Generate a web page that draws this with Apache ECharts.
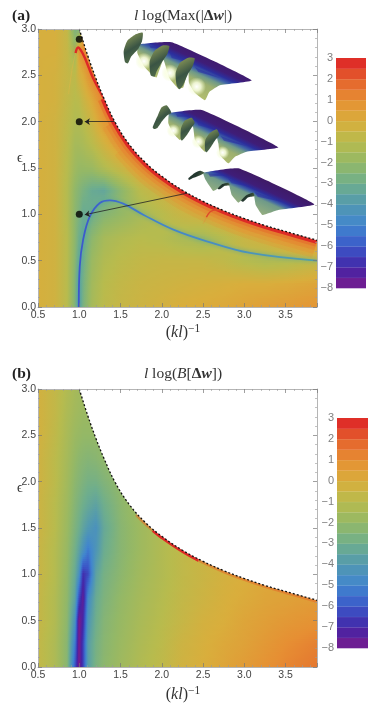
<!DOCTYPE html>
<html>
<head>
<meta charset="utf-8">
<style>
  html, body { margin: 0; padding: 0; background: #fff; }
  #chart { width: 374px; height: 705px; }
</style>
<script src="https://cdn.jsdelivr.net/npm/echarts@6/dist/echarts.min.js"></script>
</head>
<body>
<div id="chart"></div>
<script>
// colour scale
const scaleValues = [-8, -7, -6, -5, -4, -3, -2, -1, 0, 1, 2, 3]
const scaleColors = ['#7b1a8c', '#4325a6', '#3b57c8', '#4085cf', '#5299b0', '#6fae8c', '#94b866', '#b8bb4d', '#d9ae3c', '#e68f33', '#e4602c', '#dd1f26']
const bandEdges = [-8, -7.5, -7, -6.5, -6, -5.5, -5, -4.5, -4, -3.5, -3, -2.5, -2, -1.5, -1, -0.5, 0, 0.5, 1, 1.5, 2, 2.5, 3]

// rows of both fields, top of the plot first
const rowsE = [3, 2.75, 2.5, 2.25, 2, 1.75, 1.5, 1.25, 1, 0.75, 0.5, 0.25, 0]

// panel (a)
const colsA = [0.5, 0.7, 0.85, 0.95, 1, 1.05, 1.15, 1.3, 1.5, 1.75, 2, 2.25, 2.5, 2.75, 3, 3.25, 3.5, 3.88]
const fieldA = [
  [-0.1, -0.1, -0.6, -2.6, -2.6, 0.4, 1, 1, 1, 1, 1, 1, 1, 1, 1, 1, 1, 1],
  [-0.1, -0.1, -0.6, -1.6, 0.5, 0.9, 1.4, 1.5, 1.5, 1.5, 1.5, 1.5, 1.5, 1.5, 1.5, 1.5, 1.5, 1.5],
  [-0.1, -0.2, -0.6, -0.9, -0.2, 0.1, 1.1, 1.5, 1.5, 1.5, 1.5, 1.5, 1.5, 1.5, 1.5, 1.5, 1.5, 1.5],
  [-0.1, -0.2, -0.7, -1, -0.9, -0.5, 0.2, 1.4, 1.5, 1.5, 1.5, 1.5, 1.5, 1.5, 1.5, 1.5, 1.5, 1.5],
  [-0.1, -0.3, -0.8, -1.2, -1.2, -1, -0.4, 0.7, 1.5, 1.5, 1.5, 1.5, 1.5, 1.5, 1.5, 1.5, 1.5, 1.5],
  [-0.1, -0.3, -0.9, -1.5, -1.5, -1.4, -1, -0.3, 0.7, 1.5, 1.5, 1.5, 1.5, 1.5, 1.5, 1.5, 1.5, 1.5],
  [-0.1, -0.3, -1, -1.7, -1.9, -1.9, -1.8, -1.2, -0.5, 0.4, 1.2, 1.5, 1.5, 1.5, 1.5, 1.5, 1.5, 1.5],
  [-0.1, -0.3, -1.1, -2.1, -2.4, -2.7, -3.2, -3.4, -2.2, -0.9, -0.4, 0.3, 1, 1.5, 1.5, 1.5, 1.5, 1.5],
  [-0.1, -0.3, -1.1, -2.2, -2.6, -3.2, -3, -2.4, -2, -1.5, -1, -0.5, -0.1, 0.6, 1.4, 1.5, 1.5, 1.5],
  [-0.1, -0.3, -1, -2.2, -3, -3.2, -2.2, -1.5, -1.2, -1, -1.1, -1.4, -1.6, -1.1, -0.5, -0.1, 0.5, 1.4],
  [-0.1, -0.3, -1, -2.3, -3.2, -3, -1.8, -1.2, -0.9, -0.7, -0.6, -0.6, -0.6, -0.8, -1.1, -1.3, -1.2, -0.8],
  [-0.1, -0.3, -1, -2.4, -3.6, -2.8, -1.6, -1, -0.7, -0.5, -0.4, -0.3, -0.2, -0.1, 0, 0, 0.1, 0.3],
  [-0.1, -0.3, -1, -2.5, -3.8, -2.7, -1.5, -0.9, -0.6, -0.4, -0.2, 0, 0.1, 0.2, 0.35, 0.5, 0.6, 0.8]
]

// panel (b)
const colsB = [0.5, 0.7, 0.85, 0.95, 1, 1.05, 1.1, 1.2, 1.3, 1.5, 1.75, 2, 2.25, 2.5, 2.75, 3, 3.25, 3.5, 3.88]
const fieldB = [
  [-0.2, -0.7, -1.2, -1.5, -1.6, -1.7, -1.7, -1.7, -1.5, -1, -0.5, -0.2, 0, 0, 0, 0, 0, 0, 0],
  [-0.2, -0.7, -1.3, -1.6, -1.7, -1.8, -1.8, -1.8, -1.7, -1.4, -1, -0.5, 0, 0, 0, 0, 0, 0, 0],
  [-0.2, -0.8, -1.4, -1.8, -1.9, -2, -2, -2, -1.9, -1.6, -1.2, -0.7, 0, 0, 0, 0, 0, 0, 0],
  [-0.3, -0.9, -1.5, -2, -2.2, -2.3, -2.4, -2.3, -2.1, -1.8, -1.4, -0.9, -0.3, 0, 0, 0, 0, 0, 0],
  [-0.3, -0.9, -1.6, -2.2, -2.4, -2.6, -2.8, -2.8, -2.5, -2, -1.5, -1, -0.4, 0, 0, 0, 0, 0, 0],
  [-0.4, -1, -1.7, -2.4, -2.7, -3, -3.3, -3.6, -3, -2.2, -1.6, -1.1, -0.6, -0.2, 0, 0, 0, 0, 0],
  [-0.4, -1, -1.8, -2.6, -3, -3.5, -4, -4.4, -3.3, -2.3, -1.7, -1.2, -0.7, -0.2, 0, 0, 0, 0, 0],
  [-0.5, -1.1, -1.9, -2.9, -3.6, -4.4, -5.3, -4.2, -3.1, -2.3, -1.7, -1.2, -0.8, -0.4, 0, 0.2, 0.3, 0.3, 0.3],
  [-0.5, -1.1, -2, -3.2, -4.4, -6.8, -6.3, -3.6, -2.8, -2.2, -1.6, -1.2, -0.8, -0.5, -0.2, 0, 0.2, 0.3, 0.4],
  [-0.6, -1.2, -2.1, -3.6, -6.2, -7.6, -4.8, -3.2, -2.6, -2, -1.5, -1.1, -0.7, -0.4, -0.1, 0.1, 0.3, 0.4, 0.6],
  [-0.6, -1.2, -2.2, -4.4, -8, -7, -4.2, -3, -2.4, -1.9, -1.4, -1, -0.6, -0.2, 0, 0.3, 0.5, 0.7, 0.9],
  [-0.7, -1.3, -2.3, -5.2, -8, -6.5, -3.8, -2.8, -2.3, -1.8, -1.3, -0.9, -0.4, -0.1, 0.2, 0.4, 0.7, 1, 1.3],
  [-0.7, -1.3, -2.3, -6, -8, -6.5, -3.8, -2.7, -2.2, -1.7, -1.2, -0.8, -0.3, 0, 0.3, 0.6, 0.9, 1.2, 1.5]
]

// edge of the solved region, dashed in both panels
const edgeX = [1, 1.1, 1.2, 1.3, 1.43, 1.6, 1.8, 2, 2.25, 2.5, 2.75, 3, 3.25, 3.5, 3.88]
const edgeY = [3, 2.72, 2.47, 2.25, 2, 1.76, 1.56, 1.41, 1.26, 1.14, 1.04, 0.955, 0.88, 0.815, 0.72]

// red rim under the edge in (a), from where the arc joins it
const rimX = [1.3, 1.43, 1.6, 1.8, 2, 2.25, 2.5, 2.75, 3, 3.25, 3.5, 3.88]
const rimY = [2.25, 2, 1.76, 1.56, 1.41, 1.26, 1.14, 1.04, 0.955, 0.88, 0.815, 0.72]

// rims in (b): orange along the lower edge, red on a short stretch
const rimBX = [1.7, 1.8, 2, 2.25, 2.5, 2.75, 3, 3.25, 3.5, 3.88]
const rimBY = [1.65, 1.56, 1.41, 1.26, 1.14, 1.04, 0.955, 0.88, 0.815, 0.72]
const rimRedX = [1.9, 2, 2.25, 2.45]
const rimRedY = [1.48, 1.41, 1.26, 1.16]

// blue valley in (a)
const valleyX = [0.994, 1.006, 1.047, 1.128, 1.249, 1.37, 1.532, 1.775, 2.14, 2.545, 3.07, 3.88]
const valleyY = [0, 0.44, 0.727, 0.978, 1.122, 1.151, 1.115, 0.996, 0.835, 0.709, 0.583, 0.5]

// the thin arcs in (a)
const arcOneX = [0.955, 0.986, 1.02, 1.067, 1.168, 1.3]
const arcOneY = [2.74, 2.8, 2.77, 2.69, 2.47, 2.25]
const arcFaintX = [0.87, 0.89, 0.92, 0.955]
const arcFaintY = [2.3, 2.43, 2.6, 2.74]
const arcTwoX = [2.54, 2.59, 2.66, 2.72]
const arcTwoY = [0.97, 1.03, 1.05, 1.05]
const arcTwoFaintX = [2.5, 2.52, 2.54]
const arcTwoFaintY = [0.9, 0.93, 0.97]

// sample points with arrows to the surface insets
const dotX = [1, 1, 1]
const dotY = [2.89, 2, 1]
const arrowTailX = [1.52, 1.864, 2.476]
const arrowTailY = [2.74, 2, 1.26]
const arrowHeadX = [1.047, 1.067, 1.067]
const arrowHeadY = [2.885, 2, 0.996]

const xTicksMax = 3.88

const FONT = '"Liberation Sans", Arial, sans-serif'
const SERIF = '"Liberation Serif", "DejaVu Serif", serif'

const colorOf = v => {
  const t = (Math.max(-8, Math.min(3, v)) + 8) / 11
  return echarts.color.lerp(t, scaleColors)
}

const fieldCells = (cols, rows, field) => {
  const cells = []
  for (let r = 0; r < rows.length - 1; r++) {
    for (let c = 0; c < cols.length - 1; c++) {
      cells.push([cols[c], cols[c + 1], rows[r + 1], rows[r], field[r][c], field[r][c + 1], field[r + 1][c], field[r + 1][c + 1]])
    }
  }
  return cells
}

// one field cell, shaded between its four corner readings
const renderCell = (params, api) => {
  const p0 = api.coord([api.value(0), api.value(3)])
  const p1 = api.coord([api.value(1), api.value(2)])
  const left = Math.round(p0[0])
  const right = Math.round(p1[0])
  const top = Math.round(p0[1])
  const bottom = Math.round(p1[1])
  const tl = api.value(4), tr = api.value(5), bl = api.value(6), br = api.value(7)
  const children = []
  for (let y = top; y < bottom; y += 2) {
    const t = (y + 1 - top) / (bottom - top)
    const vl = tl + (bl - tl) * t
    const vr = tr + (br - tr) * t
    const stops = [0, 0.2, 0.4, 0.6, 0.8, 1].map(s => ({ offset: s, color: colorOf(vl + (vr - vl) * s) }))
    children.push({
      type: 'rect',
      shape: { x: left, y: y, width: right - left, height: Math.min(2, bottom - y) },
      style: { fill: new echarts.graphic.LinearGradient(0, 0, 1, 0, stops) }
    })
  }
  return { type: 'group', children: children }
}

const bandCells = () => {
  const cells = []
  for (let i = 0; i < bandEdges.length - 1; i++) cells.push([0, 1, bandEdges[i], bandEdges[i + 1]])
  return cells
}

const renderBand = (params, api) => {
  const p0 = api.coord([api.value(0), api.value(3)])
  const p1 = api.coord([api.value(1), api.value(2)])
  const c = colorOf((api.value(2) + api.value(3)) / 2)
  const children = [{
    type: 'rect',
    shape: { x: p0[0], y: p0[1], width: p1[0] - p0[0], height: p1[1] - p0[1] + 0.3 },
    style: { fill: c }
  }]
  if (api.value(3) < 3) {
    children.push({
      type: 'line',
      shape: { x1: p0[0], y1: p0[1], x2: p1[0], y2: p0[1] },
      style: { stroke: echarts.color.lift(c, 0.4), lineWidth: 1 }
    })
  }
  return { type: 'group', children: children }
}

const zip = (xs, ys) => xs.map((x, i) => [x, ys[i]])

const tickLabel = v => (v > 3.6 && v < 3.99 ? '' : v.toFixed(1))

const makeX = (grid, pos, labels) => ({
  type: 'value', gridIndex: grid, position: pos, min: 0.5, max: xTicksMax, interval: 0.5, z: 7,
  axisLine: { show: true, onZero: false, lineStyle: { color: '#b5b5b5', width: 1 } },
  axisTick: { show: true, inside: true, length: 4, lineStyle: { color: '#777', width: 0.7 } },
  minorTick: { show: true, splitNumber: 5, length: 2, lineStyle: { color: '#999', width: 0.6 } },
  splitLine: { show: false },
  axisLabel: { show: labels, color: '#444', fontFamily: FONT, fontSize: 10.5, margin: 3, showMaxLabel: false, formatter: tickLabel }
})

const makeY = (grid, pos, labels) => ({
  type: 'value', gridIndex: grid, position: pos, min: 0, max: 3, interval: 0.5, z: 7,
  axisLine: { show: true, onZero: false, lineStyle: { color: '#b5b5b5', width: 1 } },
  axisTick: { show: true, inside: true, length: 4, lineStyle: { color: '#777', width: 0.7 } },
  minorTick: { show: true, splitNumber: 5, length: 2, lineStyle: { color: '#999', width: 0.6 } },
  splitLine: { show: false },
  axisLabel: { show: labels, color: '#444', fontFamily: FONT, fontSize: 10.5, margin: 2, formatter: v => v.toFixed(1) }
})

const makeBarX = grid => ({
  type: 'value', gridIndex: grid, min: 0, max: 1,
  axisLine: { show: false }, axisTick: { show: false }, axisLabel: { show: false }, splitLine: { show: false }
})

const makeBarY = grid => ({
  type: 'value', gridIndex: grid, min: -8, max: 3, interval: 1, z: 8,
  axisLine: { show: false }, axisTick: { show: false }, splitLine: { show: false },
  axisLabel: {
    color: '#808080', fontFamily: FONT, fontSize: 11, margin: 3,
    formatter: v => (v < 0 ? '\u2212' + Math.abs(v) : String(v))
  }
})

const lineOn = (x, y, data, lineStyle, z, extra) => Object.assign({
  type: 'line', xAxisIndex: x, yAxisIndex: y, data: data, showSymbol: false, symbol: 'none',
  smooth: 0.4, silent: true, animation: false, z: z, lineStyle: lineStyle
}, extra || {})

// surface insets, traced at 3x and placed over the white part of (a)
const inset = (ox, oy, body, leaves, glows, streaks, gradFrom, gradTo, tones) => {
  const px = p => [ox + p[0] / 3, oy + p[1] / 3]
  const out = []
  const a = px(gradFrom), b = px(gradTo)
  out.push({
    type: 'polygon', z: 20, silent: true,
    shape: { points: body.map(px), smooth: 0.12 },
    style: {
      fill: new echarts.graphic.LinearGradient(a[0], a[1], b[0], b[1], [
        { offset: 0, color: tones[0] }, { offset: 0.35, color: tones[1] }, { offset: 0.48, color: '#6f9a88' },
        { offset: 0.56, color: '#3f63a8' }, { offset: 0.64, color: '#2b2f9e' }, { offset: 0.74, color: '#3f1d78' }, { offset: 1, color: '#3f1a63' }
      ], true)
    }
  })
  streaks.forEach(s => {
    out.push({ type: 'polygon', z: 21, silent: true, shape: { points: s.map(px) }, style: { fill: '#2a2ca0', opacity: 0.55 } })
  })
  glows.forEach(g => {
    const c = px(g)
    out.push({
      type: 'circle', z: 22, silent: true, shape: { cx: c[0], cy: c[1], r: g[2] / 3 },
      style: {
        fill: new echarts.graphic.RadialGradient(0.5, 0.5, 0.5, [
          { offset: 0, color: '#ffffff' }, { offset: 0.45, color: 'rgba(250,255,225,0.85)' }, { offset: 1, color: 'rgba(240,250,200,0)' }
        ])
      }
    })
  })
  leaves.forEach(l => {
    const p = l.map(px)
    const xs = p.map(q => q[0]), ys = p.map(q => q[1])
    out.push({
      type: 'polygon', z: 23, silent: true,
      shape: { points: p, smooth: 0.2 },
      style: {
        fill: new echarts.graphic.LinearGradient(Math.min(...xs), Math.min(...ys), Math.max(...xs), Math.max(...ys), [
          { offset: 0, color: tones[2] }, { offset: 0.5, color: tones[3] }, { offset: 1, color: '#5f7a4c' }
        ], true)
      }
    })
  })
  return out
}

const insetGraphics = [].concat(
  // wide rim strokes poke past the frame on the right, keep that margin clean
  [{ type: 'rect', z: 6, silent: true, shape: { x: 318, y: 200, width: 14, height: 90 }, style: { fill: '#ffffff' } }],
  inset(120, 28,
    [[55, 50], [155, 43], [395, 157], [300, 172], [268, 192], [255, 217], [225, 195], [207, 165], [205, 125], [190, 178], [175, 182], [148, 150], [130, 95], [110, 148], [100, 145], [72, 115], [52, 75]],
    [
      [[15, 102], [11, 70], [22, 38], [45, 20], [68, 14], [66, 40], [55, 62], [34, 85], [24, 106]],
      [[92, 142], [89, 100], [104, 68], [130, 52], [148, 54], [142, 78], [126, 102], [110, 130], [104, 146]],
      [[170, 172], [167, 135], [180, 104], [205, 89], [224, 91], [218, 115], [203, 140], [190, 170], [178, 184]]
    ],
    [[72, 100, 26], [150, 135, 26], [230, 176, 28]],
    [[[150, 75], [215, 105], [155, 90]], [[225, 118], [300, 150], [235, 132]], [[88, 52], [140, 62], [92, 60]]],
    [215, 205], [275, 75], ['#b5bf70', '#9db06f', '#9aa55a', '#3a5444']),
  inset(150, 100,
    [[58, 40], [155, 30], [385, 142], [290, 155], [255, 170], [235, 190], [210, 165], [205, 130], [195, 95], [165, 155], [135, 120], [128, 78], [90, 120], [70, 100], [55, 70]],
    [
      [[8, 82], [24, 45], [35, 22], [50, 16], [64, 38], [52, 46], [36, 64], [22, 84], [12, 87]],
      [[92, 117], [93, 85], [104, 62], [125, 53], [134, 68], [124, 84], [110, 106], [96, 122]],
      [[165, 152], [166, 120], [179, 100], [200, 88], [208, 105], [196, 120], [182, 142], [170, 157]]
    ],
    [[70, 92, 20], [145, 125, 20], [218, 158, 20]],
    [[[140, 62], [205, 92], [145, 76]], [[212, 108], [290, 138], [222, 122]], [[78, 42], [130, 50], [82, 50]]],
    [200, 190], [260, 65], ['#b5bf70', '#9db06f', '#8f9f58', '#3a5444']),
  inset(185, 160,
    [[55, 38], [160, 25], [388, 133], [280, 150], [250, 160], [232, 165], [212, 135], [205, 100], [170, 120], [160, 128], [140, 105], [130, 70], [100, 85], [85, 93], [62, 60]],
    [
      [[10, 55], [30, 38], [45, 32], [58, 38], [40, 48], [22, 55], [12, 60]],
      [[98, 86], [112, 72], [130, 68], [134, 76], [118, 78], [104, 88]],
      [[168, 122], [185, 105], [205, 98], [208, 108], [190, 112], [175, 125]]
    ],
    [],
    [[[130, 56], [205, 82], [140, 70]], [[208, 95], [290, 125], [218, 110]], [[70, 40], [130, 45], [75, 50]]],
    [190, 165], [240, 55], ['#a4b57c', '#7fa384', '#24382f', '#24382f'])
)

const bandSeries = (x, y) => ({
  type: 'custom', xAxisIndex: x, yAxisIndex: y, silent: true, animation: false,
  data: bandCells(), encode: { x: [0, 1], y: [2, 3] }, renderItem: renderBand
})

const fieldSeries = (x, y, cols, field) => ({
  type: 'custom', xAxisIndex: x, yAxisIndex: y, silent: true, animation: false, z: 1, clip: true,
  data: fieldCells(cols, rowsE, field), encode: { x: [0, 1], y: [2, 3] }, renderItem: renderCell
})

const maskLine = (x, y) => lineOn(x, y, zip(edgeX, edgeY), { width: 0 }, 5, {
  areaStyle: { color: '#ffffff', opacity: 1, origin: 'end' }
})

const edgeLine = (x, y) => lineOn(x, y, zip(edgeX, edgeY), { color: '#111', width: 1.3, type: [2, 2] }, 6)

const titleRich = {
  i: { fontFamily: SERIF, fontStyle: 'italic', fontSize: 15.5, color: '#333' },
  d: { fontFamily: SERIF, fontWeight: 'bold', fontSize: 15.5, color: '#333' },
  w: { fontFamily: SERIF, fontStyle: 'italic', fontWeight: 'bold', fontSize: 15.5, color: '#333' }
}
const labelRich = {
  i: { fontFamily: SERIF, fontStyle: 'italic', fontSize: 16, color: '#333' },
  s: { fontFamily: SERIF, fontSize: 11.5, color: '#333', padding: [0, 0, 7, 0] }
}

const option = {
  animation: false,
  backgroundColor: '#ffffff',
  title: [
    { text: '(a)', left: 7, top: 3, textStyle: { fontFamily: SERIF, fontWeight: 'bold', fontSize: 15.5, color: '#222' } },
    { text: '(b)', left: 7, top: 361, textStyle: { fontFamily: SERIF, fontWeight: 'bold', fontSize: 15.5, color: '#222' } },
    {
      text: '{i|l} log(Max(|{d|\u0394}{w|w}|)', left: 178, top: 3, textAlign: 'center',
      textStyle: { fontFamily: SERIF, fontWeight: 'normal', fontSize: 15.5, color: '#333', rich: titleRich }
    },
    {
      text: '{i|l} log({i|B}[{d|\u0394}{w|w}])', left: 178, top: 361, textAlign: 'center',
      textStyle: { fontFamily: SERIF, fontWeight: 'normal', fontSize: 15.5, color: '#333', rich: titleRich }
    },
    {
      text: '({i|kl}){s|\u22121}', left: 178, top: 318, textAlign: 'center',
      textStyle: { fontFamily: SERIF, fontWeight: 'normal', fontSize: 16, color: '#333', rich: labelRich }
    },
    {
      text: '({i|kl}){s|\u22121}', left: 178, top: 680, textAlign: 'center',
      textStyle: { fontFamily: SERIF, fontWeight: 'normal', fontSize: 16, color: '#333', rich: labelRich }
    },
    { text: '\u03F5', left: 12, top: 146, textStyle: { fontFamily: SERIF, fontWeight: 'normal', fontSize: 14, color: '#333' } },
    { text: '\u03F5', left: 12, top: 476, textStyle: { fontFamily: SERIF, fontWeight: 'normal', fontSize: 14, color: '#333' } }
  ],
  grid: [
    { left: 38, top: 29, width: 279, height: 278 },
    { left: 38, top: 389, width: 279, height: 278 },
    { left: 336, top: 58, width: 30, height: 230 },
    { left: 337, top: 418, width: 31, height: 230 }
  ],
  xAxis: [makeX(0, 'bottom', true), makeX(0, 'top', false), makeX(1, 'bottom', true), makeX(1, 'top', false), makeBarX(2), makeBarX(3)],
  yAxis: [makeY(0, 'left', true), makeY(0, 'right', false), makeY(1, 'left', true), makeY(1, 'right', false), makeBarY(2), makeBarY(3)],
  graphic: insetGraphics,
  series: [
    fieldSeries(0, 0, colsA, fieldA),
    lineOn(0, 0, zip(rimX.slice(2), rimY.slice(2)), { color: 'rgba(232,140,50,0.2)', width: 36 }, 2),
    lineOn(0, 0, zip(rimX.slice(1), rimY.slice(1)), { color: 'rgba(232,130,50,0.22)', width: 28 }, 2),
    lineOn(0, 0, zip(rimX.slice(1), rimY.slice(1)), { color: 'rgba(230,110,45,0.25)', width: 20 }, 2),
    lineOn(0, 0, zip(rimX, rimY), { color: 'rgba(228,90,40,0.35)', width: 13 }, 2),
    lineOn(0, 0, zip(rimX, rimY), { color: '#dd2a26', width: 7 }, 2),
    lineOn(0, 0, zip(arcFaintX, arcFaintY), { color: 'rgba(230,180,70,0.6)', width: 0.7 }, 3),
    lineOn(0, 0, zip(arcOneX, arcOneY), { color: '#dd2a26', width: 2.4, shadowColor: 'rgba(230,120,50,0.7)', shadowBlur: 5 }, 3),
    lineOn(0, 0, zip(arcTwoFaintX, arcTwoFaintY), { color: 'rgba(225,140,60,0.6)', width: 0.8 }, 3),
    lineOn(0, 0, zip(arcTwoX, arcTwoY), { color: '#dd4a2a', width: 1.4, shadowColor: 'rgba(230,130,50,0.6)', shadowBlur: 3 }, 3),
    lineOn(0, 0, zip(valleyX, valleyY), {
      width: 1.8, shadowColor: 'rgba(70,160,170,0.8)', shadowBlur: 4,
      color: new echarts.graphic.LinearGradient(0, 0, 1, 0, [
        { offset: 0, color: '#3b55cc' }, { offset: 0.3, color: '#4282cc' }, { offset: 0.6, color: '#4a8fc0' }, { offset: 1, color: '#52a0a8' }
      ])
    }, 3),
    maskLine(0, 0),
    edgeLine(0, 0),
    {
      type: 'scatter', xAxisIndex: 0, yAxisIndex: 0, data: zip(dotX, dotY), symbolSize: 7,
      itemStyle: { color: '#000' }, silent: true, animation: false, z: 8,
      markLine: {
        silent: true, animation: false, symbol: ['none', 'arrow'], symbolSize: 5,
        lineStyle: { color: '#222', width: 0.8, type: 'solid' }, label: { show: false },
        data: arrowTailX.map((x, i) => [
          { coord: [x, arrowTailY[i]] },
          { coord: [arrowHeadX[i], arrowHeadY[i]] }
        ])
      }
    },
    fieldSeries(2, 2, colsB, fieldB),
    lineOn(2, 2, zip(rimBX, rimBY), { color: 'rgba(229,110,44,0.6)', width: 5 }, 2),
    lineOn(2, 2, zip(rimRedX, rimRedY), { color: '#dd2a26', width: 5 }, 2),
    maskLine(2, 2),
    edgeLine(2, 2),
    bandSeries(4, 4),
    bandSeries(5, 5)
  ]
}

const chart = echarts.init(document.getElementById('chart'), null, { renderer: 'canvas' })
chart.setOption(option)
</script>
</body>
</html>
